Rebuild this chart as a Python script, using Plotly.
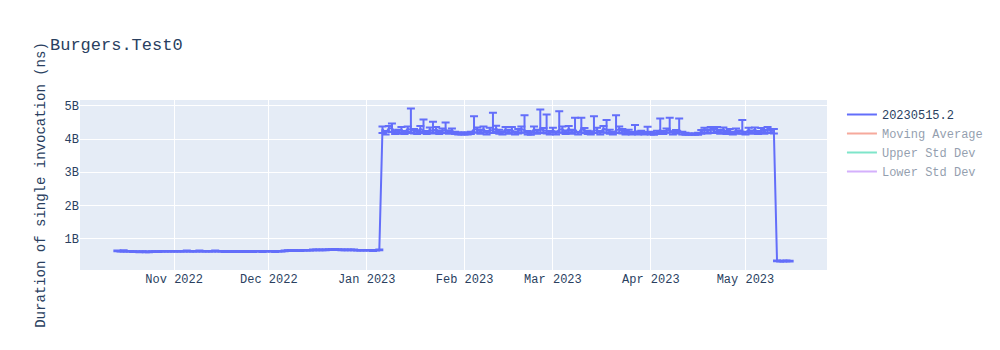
import pandas as pd
import plotly.graph_objects as go

# Daily values (billions of ns), one list per month
oct_start = "2022-10-14"
oct_vals = [0.63, 0.62, 0.63, 0.62, 0.62, 0.61, 0.61, 0.60, 0.61,
            0.60, 0.60, 0.61, 0.61, 0.61, 0.62, 0.62, 0.62, 0.62]
oct_plus = [0.01, 0.01, 0.02, 0.01, 0.01, 0.01, 0.01, 0.01, 0.01,
            0.01, 0.01, 0.01, 0.01, 0.01, 0.01, 0.01, 0.01, 0.01]

nov_start = "2022-11-01"
nov_vals = [0.62, 0.62, 0.62, 0.62, 0.63, 0.62, 0.62, 0.62, 0.63, 0.62,
            0.62, 0.62, 0.62, 0.63, 0.62, 0.62, 0.61, 0.61, 0.61, 0.62,
            0.61, 0.61, 0.62, 0.61, 0.62, 0.61, 0.62, 0.62, 0.61, 0.62]
nov_plus = [0.01, 0.01, 0.01, 0.01, 0.01, 0.01, 0.01, 0.01, 0.01, 0.01,
            0.01, 0.01, 0.01, 0.01, 0.01, 0.01, 0.01, 0.01, 0.01, 0.01,
            0.01, 0.01, 0.01, 0.01, 0.01, 0.01, 0.01, 0.01, 0.01, 0.01]

dec_start = "2022-12-01"
dec_vals = [0.62, 0.62, 0.61, 0.62, 0.62, 0.63, 0.64, 0.64, 0.65, 0.64,
            0.64, 0.65, 0.65, 0.65, 0.66, 0.66, 0.66, 0.66, 0.66, 0.67,
            0.67, 0.68, 0.67, 0.66, 0.66, 0.66, 0.66, 0.66, 0.65, 0.65, 0.65]
dec_plus = [0.01, 0.01, 0.01, 0.01, 0.01, 0.01, 0.01, 0.01, 0.01, 0.01,
            0.01, 0.01, 0.01, 0.01, 0.01, 0.01, 0.01, 0.01, 0.01, 0.01,
            0.01, 0.01, 0.01, 0.01, 0.01, 0.01, 0.01, 0.01, 0.01, 0.01, 0.01]

jan_start = "2023-01-01"
jan_vals = [0.65, 0.65, 0.64, 0.65, 0.66, 4.30, 4.18, 4.32, 4.33, 4.20,
            4.22, 4.28, 4.19, 4.31, 4.27, 4.24, 4.20, 4.31, 4.26, 4.19,
            4.28, 4.24, 4.30, 4.20, 4.25, 4.27, 4.21, 4.26, 4.18, 4.17, 4.17]
jan_plus = [0.01, 0.01, 0.01, 0.01, 0.01, 0.08, 0.06, 0.07, 0.14, 0.05,
            0.06, 0.08, 0.05, 0.07, 0.65, 0.06, 0.06, 0.08, 0.33, 0.05,
            0.07, 0.28, 0.06, 0.05, 0.07, 0.23, 0.05, 0.06, 0.04, 0.03, 0.03]
jan_minus = [0.01, 0.01, 0.01, 0.01, 0.01, 0.12, 0.04, 0.10, 0.12, 0.05,
             0.06, 0.09, 0.04, 0.10, 0.09, 0.07, 0.05, 0.10, 0.08, 0.04,
             0.08, 0.07, 0.10, 0.05, 0.07, 0.08, 0.05, 0.06, 0.03, 0.03, 0.03]

feb_start = "2023-02-01"
feb_vals = [4.17, 4.17, 4.18, 4.30, 4.28, 4.22, 4.30, 4.19, 4.27, 4.26,
            4.32, 4.22, 4.18, 4.29, 4.22, 4.28, 4.18, 4.24, 4.30, 4.27,
            4.19, 4.16, 4.30, 4.22, 4.30, 4.26, 4.25, 4.19]
feb_plus = [0.03, 0.03, 0.04, 0.39, 0.07, 0.06, 0.08, 0.05, 0.07, 0.53,
            0.08, 0.06, 0.05, 0.07, 0.06, 0.08, 0.05, 0.06, 0.08, 0.45,
            0.05, 0.04, 0.08, 0.06, 0.59, 0.07, 0.49, 0.05]
feb_minus = [0.03, 0.03, 0.03, 0.10, 0.08, 0.06, 0.10, 0.05, 0.08, 0.08,
             0.11, 0.06, 0.04, 0.09, 0.06, 0.09, 0.04, 0.07, 0.10, 0.08,
             0.05, 0.03, 0.10, 0.06, 0.10, 0.08, 0.08, 0.05]

mar_start = "2023-03-01"
mar_vals = [4.27, 4.18, 4.28, 4.30, 4.20, 4.31, 4.22, 4.29, 4.17, 4.30,
            4.26, 4.20, 4.18, 4.25, 4.27, 4.19, 4.31, 4.28, 4.22, 4.17,
            4.26, 4.30, 4.24, 4.19, 4.22, 4.17, 4.24, 4.18, 4.20, 4.17, 4.22]
mar_plus = [0.07, 0.05, 0.56, 0.08, 0.06, 0.08, 0.06, 0.35, 0.04, 0.34,
            0.07, 0.05, 0.05, 0.44, 0.07, 0.05, 0.08, 0.29, 0.06, 0.04,
            0.46, 0.08, 0.06, 0.05, 0.06, 0.04, 0.18, 0.05, 0.05, 0.04, 0.15]
mar_minus = [0.08, 0.04, 0.09, 0.10, 0.05, 0.11, 0.06, 0.09, 0.03, 0.10,
             0.08, 0.05, 0.04, 0.07, 0.08, 0.05, 0.11, 0.09, 0.06, 0.03,
             0.08, 0.10, 0.07, 0.05, 0.06, 0.03, 0.07, 0.04, 0.05, 0.03, 0.06]

apr_start = "2023-04-01"
apr_vals = [4.18, 4.16, 4.20, 4.27, 4.19, 4.26, 4.28, 4.18, 4.22, 4.27,
            4.18, 4.16, 4.15, 4.15, 4.15, 4.16, 4.22, 4.28, 4.24, 4.30,
            4.26, 4.31, 4.22, 4.29, 4.20, 4.25, 4.18, 4.26, 4.21, 4.24]
apr_plus = [0.04, 0.04, 0.05, 0.35, 0.05, 0.06, 0.36, 0.04, 0.05, 0.35,
            0.04, 0.03, 0.02, 0.02, 0.02, 0.03, 0.05, 0.06, 0.05, 0.06,
            0.06, 0.05, 0.05, 0.06, 0.04, 0.05, 0.04, 0.06, 0.05, 0.33]
apr_minus = [0.04, 0.03, 0.05, 0.08, 0.04, 0.07, 0.08, 0.04, 0.05, 0.08,
             0.04, 0.03, 0.02, 0.02, 0.02, 0.03, 0.06, 0.09, 0.07, 0.10,
             0.08, 0.10, 0.06, 0.09, 0.05, 0.07, 0.04, 0.08, 0.05, 0.07]

may_start = "2023-05-01"
may_vals = [4.18, 4.28, 4.21, 4.29, 4.20, 4.27, 4.22, 4.30, 4.25, 4.24,
            0.33, 0.32, 0.32, 0.33, 0.32]
may_plus = [0.04, 0.06, 0.05, 0.06, 0.04, 0.06, 0.05, 0.06, 0.05, 0.06,
            0.01, 0.01, 0.01, 0.01, 0.01]
may_minus = [0.04, 0.09, 0.05, 0.10, 0.05, 0.08, 0.06, 0.10, 0.07, 0.07,
             0.01, 0.01, 0.01, 0.01, 0.01]

SCALE = 1e9
months = [
    (oct_start, oct_vals, oct_plus, oct_plus),
    (nov_start, nov_vals, nov_plus, nov_plus),
    (dec_start, dec_vals, dec_plus, dec_plus),
    (jan_start, jan_vals, jan_plus, jan_minus),
    (feb_start, feb_vals, feb_plus, feb_minus),
    (mar_start, mar_vals, mar_plus, mar_minus),
    (apr_start, apr_vals, apr_plus, apr_minus),
    (may_start, may_vals, may_plus, may_minus),
]

dates, vals, plus, minus = [], [], [], []
for start, v, p, m in months:
    dates += list(pd.date_range(start, periods=len(v), freq="D"))
    vals += [x * SCALE for x in v]
    plus += [x * SCALE for x in p]
    minus += [x * SCALE for x in m]

s = pd.Series(vals)
mov_avg = s.rolling(7, min_periods=1).mean()
mov_std = s.rolling(7, min_periods=1).std().fillna(0)

fig = go.Figure()
fig.add_trace(go.Scatter(
    x=dates, y=vals, mode="lines", name="20230515.2",
    error_y=dict(type="data", symmetric=False, array=plus, arrayminus=minus, visible=True),
))
fig.add_trace(go.Scatter(x=dates, y=mov_avg, mode="lines", name="Moving Average",
                         visible="legendonly"))
fig.add_trace(go.Scatter(x=dates, y=mov_avg + 2 * mov_std, mode="lines", name="Upper Std Dev",
                         visible="legendonly"))
fig.add_trace(go.Scatter(x=dates, y=mov_avg - 2 * mov_std, mode="lines", name="Lower Std Dev",
                         visible="legendonly"))

fig.update_layout(
    width=1000, height=350,
    title=dict(text="Burgers.Test0"),
    font=dict(family="Courier New, Liberation Mono, monospace"),
    yaxis=dict(title=dict(text="Duration of single invocation (ns)")),
    template="plotly",
)

fig.write_html("out.html")
